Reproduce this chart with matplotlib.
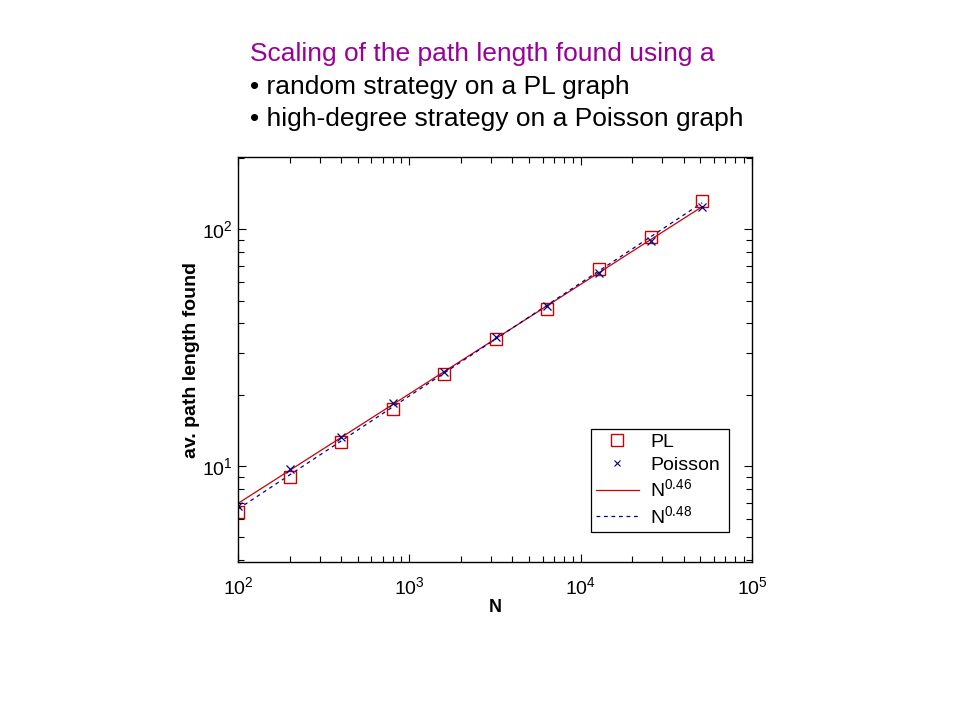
import matplotlib
matplotlib.use("Agg")
import matplotlib.pyplot as plt
from matplotlib.lines import Line2D
from matplotlib.ticker import LogLocator, NullFormatter

plt.rcParams['font.family'] = ['Liberation Sans', 'DejaVu Sans']
plt.rcParams['mathtext.fontset'] = 'custom'
plt.rcParams['mathtext.rm'] = 'Liberation Sans'
plt.rcParams['mathtext.default'] = 'regular'

# Data
N_vals = [100, 200, 400, 800, 1600, 3200, 6400, 12800, 25600, 51200]
pl_vals = [6.41, 9.01, 12.6, 17.4, 24.5, 34.4, 45.9, 67.8, 92.5, 132]
poisson_vals = [6.78, 9.68, 13.3, 18.5, 24.9, 35.0, 47.6, 65.2, 89.2, 123.9]
fit_N = [100, 51200]
fit_pl = [6.95, 124.6]        # N^0.46
fit_poisson = [6.58, 129.4]   # N^0.48

title_lines = ["Scaling of the path length found using a",
               "\u2022 random strategy on a PL graph",
               "\u2022 high-degree strategy on a Poisson graph"]

red = '#cc0000'
blue = '#00008b'

fig = plt.figure(figsize=(9.6, 7.2), dpi=100)
ax = fig.add_axes([238/960, 1-562/720, 514/960, 405/720])

ax.plot(fit_N, fit_pl, color=red, lw=0.9, ls='-')
ax.plot(fit_N, fit_poisson, color=blue, lw=0.9, ls=(0, (3, 3)))
ax.plot(N_vals, pl_vals, ls='none', marker='s', ms=9, mfc='none', mec=red, mew=1.0)
ax.plot(N_vals, poisson_vals, ls='none', marker='x', ms=6, mec=blue, mew=0.9)

ax.set_xscale('log')
ax.set_yscale('log')
ax.set_xlim(100, 1e5)
ax.set_ylim(3.93, 202)

ax.xaxis.set_major_locator(LogLocator(base=10, numticks=10))
ax.xaxis.set_minor_locator(LogLocator(base=10, subs=range(2, 10), numticks=20))
ax.yaxis.set_major_locator(LogLocator(base=10, numticks=10))
ax.yaxis.set_minor_locator(LogLocator(base=10, subs=range(2, 10), numticks=20))
ax.xaxis.set_minor_formatter(NullFormatter())
ax.yaxis.set_minor_formatter(NullFormatter())

ax.tick_params(which='both', direction='in', top=True, right=True, width=0.8, labelsize=14)
ax.tick_params(which='major', length=6)
ax.tick_params(axis='x', which='major', pad=10)
ax.tick_params(axis='y', which='major', pad=4)
ax.tick_params(which='minor', length=4)
for s in ax.spines.values():
    s.set_linewidth(1.0)

ax.set_xlabel('N', fontsize=13, fontweight='bold', labelpad=1)
ax.set_ylabel('av. path length found', fontsize=14, fontweight='bold')
ax.yaxis.set_label_coords(-0.074, 0.5)

handles = [
    Line2D([], [], ls='none', marker='s', ms=9, mfc='none', mec=red, mew=1.0),
    Line2D([], [], ls='none', marker='x', ms=4, mec=blue, mew=0.8),
    Line2D([], [], color=red, lw=0.9),
    Line2D([], [], color=blue, lw=0.9, ls=(0, (3, 3))),
]
labels = ['PL', 'Poisson', r'$N^{0.46}$', r'$N^{0.48}$']
x0 = (591-238)/514
y0 = (562-532)/405
w = (729-591)/514
h = (532-429)/405
leg = ax.legend(handles, labels, loc='lower left', bbox_to_anchor=(x0, y0, w, h),
                mode='expand', fontsize=14, frameon=True, fancybox=False,
                edgecolor='black', framealpha=1, borderpad=0.25, labelspacing=0.25,
                handlelength=2.2, handletextpad=0.6, borderaxespad=0)
leg.get_frame().set_linewidth(0.9)

fig.text(250/960, 1-54/720, title_lines[0], fontsize=19, color='#990099', va='center', ha='left')
fig.text(250/960, 1-87/720, title_lines[1], fontsize=19, color='black', va='center', ha='left')
fig.text(250/960, 1-119/720, title_lines[2], fontsize=19, color='black', va='center', ha='left')

fig.savefig('out.png', dpi=100)
